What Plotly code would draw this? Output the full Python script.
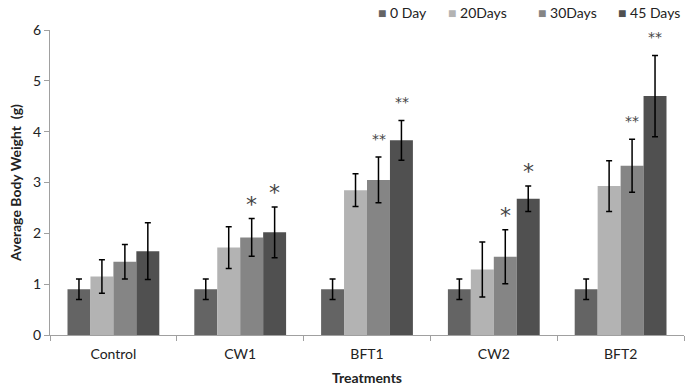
import plotly.graph_objects as go

categories = ["Control", "CW1", "BFT1", "CW2", "BFT2"]
series_names = ["0 Day", "20Days", "30Days", "45 Days"]
day0 = [0.90, 0.90, 0.90, 0.90, 0.90]
day20 = [1.15, 1.72, 2.85, 1.29, 2.93]
day30 = [1.44, 1.92, 3.05, 1.54, 3.33]
day45 = [1.65, 2.02, 3.83, 2.68, 4.70]
err0 = [0.20, 0.20, 0.20, 0.20, 0.20]
err20 = [0.33, 0.41, 0.32, 0.54, 0.50]
err30 = [0.34, 0.37, 0.45, 0.53, 0.52]
err45 = [0.56, 0.50, 0.39, 0.25, 0.80]
# significance marks per series (index 2 = 30Days, 3 = 45 Days)
sig30 = ["", "*", "**", "*", "**"]
sig45 = ["", "*", "**", "*", "**"]
colors = ["#646464", "#b3b3b3", "#858585", "#505050"]

values = [day0, day20, day30, day45]
errors = [err0, err20, err30, err45]

font = "Lato, 'Open Sans', sans-serif"

fig = go.Figure()
for name, vals, errs, col in zip(series_names, values, errors, colors):
    fig.add_trace(go.Bar(
        x=categories, y=vals, name=name, showlegend=False,
        marker=dict(color=col, line=dict(width=0)),
        error_y=dict(type="data", array=errs, visible=True,
                     color="black", thickness=1.5, width=3),
    ))

bar_px = 23
for si, sig in [(2, sig30), (3, sig45)]:
    for ci, cat in enumerate(categories):
        s = sig[ci]
        if not s:
            continue
        top = values[si][ci] + errors[si][ci]
        fig.add_annotation(
            x=cat, y=top, xref="x", yref="y",
            text=s, showarrow=False,
            xshift=(si - 1.5) * bar_px,
            yanchor="bottom", yshift=0 if s == "*" else 8,
            font=dict(size=22 if s == "*" else 14, color="#444444",
                      family="'DejaVu Sans', sans-serif"),
        )

# legend drawn as text entries (colored square + label)
legend_x = [0.514, 0.625, 0.767, 0.893]
for name, col, lx in zip(series_names, colors, legend_x):
    fig.add_annotation(
        xref="paper", yref="paper", x=lx, y=1.059, xanchor="left", yanchor="middle",
        showarrow=False,
        text=f"<span style='color:{col}'>■</span> {name}",
        font=dict(size=14, color="#222222", family=font),
    )

fig.update_layout(
    width=685, height=390,
    margin=dict(l=50, r=1, t=30, b=55),
    plot_bgcolor="white", paper_bgcolor="white",
    barmode="group", bargap=0.276, bargroupgap=0,
    font=dict(family=font, size=14, color="#222222"),
    showlegend=False,
    xaxis=dict(
        title=dict(text="<b>Treatments</b>", font=dict(size=14), standoff=12),
        automargin=False,
        showline=True, linecolor="#a0a0a0", linewidth=1,
        ticks="outside", tickson="boundaries", ticklen=5, tickcolor="#a0a0a0",
        ticklabelstandoff=6,
        tickfont=dict(size=14),
    ),
    yaxis=dict(
        title=dict(text="<b>Average Body Weight  (g)</b>", font=dict(size=14), standoff=8),
        automargin=False,
        range=[0, 6], dtick=1, showgrid=False, zeroline=False,
        showline=True, linecolor="#a0a0a0", linewidth=1,
        ticks="outside", ticklen=5, tickcolor="#a0a0a0",
        tickfont=dict(size=14),
    ),
)

fig.write_html("out.html", config={"displayModeBar": False},
               post_script="document.body.style.margin='0';document.body.style.overflow='hidden';")
